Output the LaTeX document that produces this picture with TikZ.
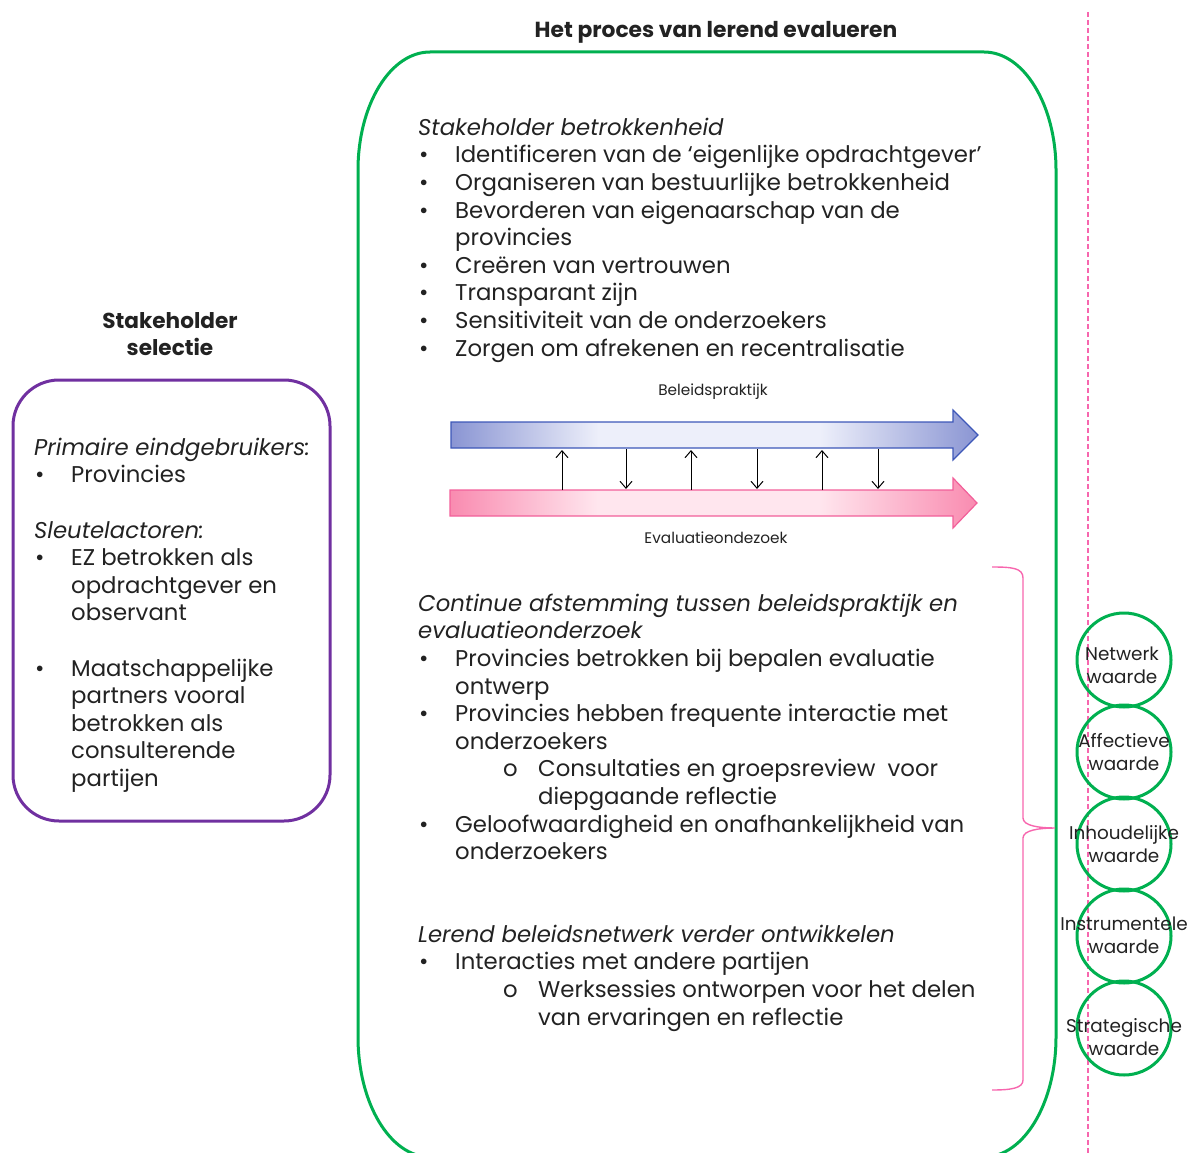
\documentclass[tikz,border=0pt]{standalone}
\usepackage{fontspec}
\setmainfont{Poppins}
\usetikzlibrary{arrows.meta}
\definecolor{gr}{HTML}{00B050}
\definecolor{pu}{HTML}{7030A0}
\definecolor{pk}{HTML}{F766AE}
\definecolor{txt}{HTML}{222222}
\definecolor{bdark}{HTML}{8A95D3}
\definecolor{blight}{HTML}{EDEFFA}
\definecolor{bline}{HTML}{3D57B8}
\definecolor{pdark}{HTML}{F98BB0}
\definecolor{plight}{HTML}{FFE6EE}
\definecolor{pline}{HTML}{F2609A}
\pgfdeclarehorizontalshading{bshade}{100bp}{color(0bp)=(bdark); color(25bp)=(bdark); color(39bp)=(blight); color(60bp)=(blight); color(75bp)=(bdark); color(100bp)=(bdark)}
\pgfdeclarehorizontalshading{pshade}{100bp}{color(0bp)=(pdark); color(25bp)=(pdark); color(39bp)=(plight); color(60bp)=(plight); color(75bp)=(pdark); color(100bp)=(pdark)}
\newcommand{\bul}{\makebox[37pt][l]{\hspace{1pt}•}}
\newcommand{\subbul}{\hspace{85pt}\makebox[35pt][l]{o}}
\newcommand{\subind}{\hspace{120pt}}
\newcommand{\bind}{\hspace{37pt}}
\newcommand{\bodyfont}{\fontsize{22.8}{27.6}\selectfont\setlength{\lineskiplimit}{-100pt}}
\tikzset{
  body/.style={anchor=north west, align=left, font=\bodyfont},
  wcircle/.style={circle, draw=gr, line width=3pt, minimum size=94pt},
  wlabel/.style={align=center, font=\fontsize{18.4}{23}\selectfont},
  small/.style={font=\fontsize{15.3}{17}\selectfont},
  flow/.style={-{Straight Barb[length=7pt,width=12pt]}, line width=1pt, black},
  heading/.style={align=center, font=\fontsize{21.6}{27.6}\selectfont\bfseries},
}
\begin{document}
\begin{tikzpicture}[x=1pt,y=-1pt, every node/.style={inner sep=0pt, text=txt}]
\useasboundingbox (0,0) rectangle (1194,1153);
\clip (0,0) rectangle (1194,1153);

% dashed divider
\draw[pk, dashed, dash pattern=on 5pt off 3pt, line width=1.2pt] (1088,12) -- (1088,1153);

% titles
\node[heading, font=\fontsize{21.8}{24}\selectfont\bfseries] (title) at (716,32) {Het proces van lerend evalueren};
\node[heading] (seltitle) at (170,334) {Stakeholder\\selectie};

% green process box
\draw[gr, line width=3pt] (430,52) -- (984,52)
  arc[start angle=-90, end angle=0, x radius=72, y radius=118] -- (1056,1037)
  arc[start angle=0, end angle=90, x radius=72, y radius=120] -- (430,1157)
  arc[start angle=90, end angle=180, x radius=72, y radius=120] -- (358,170)
  arc[start angle=180, end angle=270, x radius=72, y radius=118] -- cycle;

% purple selection box
\draw[pu, line width=3pt, rounded corners=46pt] (13,380) rectangle (330,821);

% left box text
\node[body] (seltext) at (34,435.7) {\strut\itshape Primaire eindgebruikers:\\
\bul Provincies\\
\mbox{}\\
{\itshape Sleutelactoren:}\\
\bul EZ betrokken als\\
\bind opdrachtgever en\\
\bind observant\\
\mbox{}\\
\bul Maatschappelijke\\
\bind partners vooral\\
\bind betrokken als\\
\bind consulterende\\
\bind partijen};

% section 1
\node[body] (sec1) at (418,115.7) {\strut\itshape Stakeholder betrokkenheid\\
\bul Identificeren van de ‘eigenlijke opdrachtgever’\\
\bul Organiseren van bestuurlijke betrokkenheid\\
\bul Bevorderen van eigenaarschap van de\\
\bind provincies\\
\bul Creëren van vertrouwen\\
\bul Transparant zijn\\
\bul Sensitiviteit van de onderzoekers\\
\bul Zorgen om afrekenen en recentralisatie};

% arrows
\shadedraw[shading=bshade, draw=bline, line width=1.2pt]
  (451,422) -- (953,422) -- (953,410) -- (978,435) -- (953,460) -- (953,448) -- (451,448) -- cycle;
\shadedraw[shading=pshade, draw=pline, line width=1.2pt]
  (450,490) -- (953,490) -- (953,478) -- (977,503) -- (953,528) -- (953,516) -- (450,516) -- cycle;
\node[small] (bp) at (713,392) {Beleidspraktijk};
\node[small] (eo) at (716,538) {Evaluatieondezoek};

\foreach \x [count=\i] in {562,691,822}{
  \coordinate (ua\i) at (\x,490); \coordinate (ub\i) at (\x,450);
  \draw[flow] (ua\i) -- (ub\i);
}
\foreach \x [count=\i] in {626,757,878}{
  \coordinate (da\i) at (\x,449); \coordinate (db\i) at (\x,489);
  \draw[flow] (da\i) -- (db\i);
}

% section 2
\node[body] (sec2) at (418,591.7) {\strut\itshape Continue afstemming tussen beleidspraktijk en\\
{\itshape evaluatieonderzoek}\\
\bul Provincies betrokken bij bepalen evaluatie\\
\bind ontwerp\\
\bul Provincies hebben frequente interactie met\\
\bind onderzoekers\\
\subbul Consultaties en groepsreview\ \ voor\\
\subind diepgaande reflectie\\
\bul Geloofwaardigheid en onafhankelijkheid van\\
\bind onderzoekers};

% section 3
\node[body] (sec3) at (418,922.7) {\strut\itshape Lerend beleidsnetwerk verder ontwikkelen\\
\bul Interacties met andere partijen\\
\subbul Werksessies ontworpen voor het delen\\
\subind van ervaringen en reflectie};

% brace
\draw[pk, line width=1.4pt] (992,567) .. controls (1012,567) and (1023,568) .. (1023,578)
  -- (1023,818) .. controls (1023,826) and (1040,828) .. (1055,828)
  .. controls (1040,828) and (1023,830) .. (1023,838)
  -- (1023,1080) .. controls (1023,1088) and (1012,1090) .. (992,1090);

% value circles
\node[wcircle] (c1) at (1124,660) {};
\node[wcircle] (c2) at (1124,752) {};
\node[wcircle] (c3) at (1124,844) {};
\node[wcircle] (c4) at (1124,936) {};
\node[wcircle] (c5) at (1124,1028) {};
\node[wlabel] (l1) at (1122,665) {Netwerk\\waarde};
\node[wlabel] (l2) at (1124,752) {Affectieve\\waarde};
\node[wlabel] (l3) at (1124,844) {Inhoudelijke\\waarde};
\node[wlabel] (l4) at (1124,935) {Instrumentele\\waarde};
\node[wlabel] (l5) at (1124,1037) {Strategische\\waarde};
\end{tikzpicture}
\end{document}
